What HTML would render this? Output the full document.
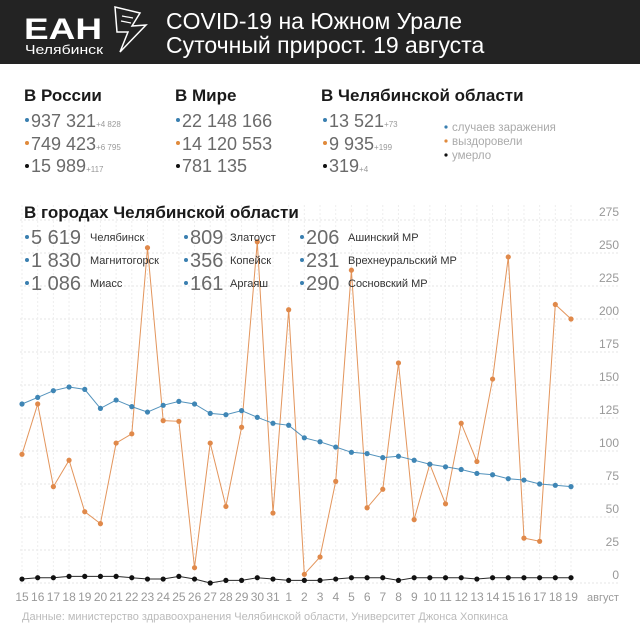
<!DOCTYPE html>
<html><head><meta charset="utf-8"><style>
body{margin:0;background:#fff}
svg{display:block}
text{font-family:"Liberation Sans","DejaVu Sans",sans-serif}
.b{font-weight:bold;fill:#1a1a1a}
.n{fill:#6a6a6a;font-size:18px}
.s{fill:#999;font-size:8px}
.c{fill:#333;font-size:11px}
.ax{fill:#999;font-size:12px}
</style></head><body>
<svg width="640" height="640" viewBox="0 0 640 640" xmlns="http://www.w3.org/2000/svg">
<rect x="0" y="0" width="640" height="64" fill="#232323"/>
<text x="24" y="39" fill="#fff" font-size="30" font-weight="bold" textLength="78" lengthAdjust="spacingAndGlyphs">ЕАН</text>
<text x="25" y="54" fill="#fff" font-size="13" textLength="78" lengthAdjust="spacingAndGlyphs">Челябинск</text>
<path d="M115 7 L140 13 L132 26 L146 25 L120 52 L128 32 L117 32 Z" fill="none" stroke="#fff" stroke-width="1.5"/>
<line x1="122" y1="16" x2="133" y2="18" stroke="#fff" stroke-width="1.2"/>
<line x1="121" y1="21" x2="131" y2="23" stroke="#fff" stroke-width="1.2"/>
<text x="166" y="29" fill="#fff" font-size="23">COVID-19 на Южном Урале</text>
<text x="166" y="53" fill="#fff" font-size="23">Суточный прирост. 19 августа</text>

<text x="24" y="101" class="b" font-size="17">В России</text>
<text x="175" y="101" class="b" font-size="17">В Мире</text>
<text x="321" y="101" class="b" font-size="17">В Челябинской области</text>

<g>
<circle cx="27" cy="120" r="2" fill="#3a7fb0"/><text x="31" y="127" class="n">937 321<tspan class="s">+4 828</tspan></text>
<circle cx="27" cy="143" r="2" fill="#e08a3c"/><text x="31" y="150" class="n">749 423<tspan class="s">+6 795</tspan></text>
<circle cx="27" cy="166" r="2" fill="#111"/><text x="31" y="172" class="n">15 989<tspan class="s">+117</tspan></text>
<circle cx="178" cy="120" r="2" fill="#3a7fb0"/><text x="182" y="127" class="n">22 148 166</text>
<circle cx="178" cy="143" r="2" fill="#e08a3c"/><text x="182" y="150" class="n">14 120 553</text>
<circle cx="178" cy="166" r="2" fill="#111"/><text x="182" y="172" class="n">781 135</text>
<circle cx="325" cy="120" r="2" fill="#3a7fb0"/><text x="329" y="127" class="n">13 521<tspan class="s">+73</tspan></text>
<circle cx="325" cy="143" r="2" fill="#e08a3c"/><text x="329" y="150" class="n">9 935<tspan class="s">+199</tspan></text>
<circle cx="325" cy="166" r="2" fill="#111"/><text x="329" y="172" class="n">319<tspan class="s">+4</tspan></text>
</g>
<circle cx="446" cy="127" r="1.6" fill="#3a7fb0"/><text x="452" y="131" fill="#aaa" font-size="11.5">случаев заражения</text>
<circle cx="446" cy="141" r="1.6" fill="#e08a3c"/><text x="452" y="145" fill="#aaa" font-size="11.5">выздоровели</text>
<circle cx="446" cy="155" r="1.6" fill="#111"/><text x="452" y="159" fill="#aaa" font-size="11.5">умерло</text>

<g id="grid"></g>
<g id="series"></g>

<text x="24" y="218" class="b" font-size="17">В городах Челябинской области</text>
<g>
<circle cx="27" cy="237" r="2" fill="#3a7fb0"/><text x="31" y="244" class="n" font-size="20" style="font-size:20px">5 619</text><text x="90" y="241" class="c">Челябинск</text>
<circle cx="27" cy="260" r="2" fill="#3a7fb0"/><text x="31" y="267" class="n" style="font-size:20px">1 830</text><text x="90" y="264" class="c">Магнитогорск</text>
<circle cx="27" cy="283" r="2" fill="#3a7fb0"/><text x="31" y="290" class="n" style="font-size:20px">1 086</text><text x="90" y="287" class="c">Миасс</text>
<circle cx="186" cy="237" r="2" fill="#3a7fb0"/><text x="190" y="244" class="n" style="font-size:20px">809</text><text x="230" y="241" class="c">Златоуст</text>
<circle cx="186" cy="260" r="2" fill="#3a7fb0"/><text x="190" y="267" class="n" style="font-size:20px">356</text><text x="230" y="264" class="c">Копейск</text>
<circle cx="186" cy="283" r="2" fill="#3a7fb0"/><text x="190" y="290" class="n" style="font-size:20px">161</text><text x="230" y="287" class="c">Аргаяш</text>
<circle cx="302" cy="237" r="2" fill="#3a7fb0"/><text x="306" y="244" class="n" style="font-size:20px">206</text><text x="348" y="241" class="c">Ашинский МР</text>
<circle cx="302" cy="260" r="2" fill="#3a7fb0"/><text x="306" y="267" class="n" style="font-size:20px">231</text><text x="348" y="264" class="c">Врехнеуральский МР</text>
<circle cx="302" cy="283" r="2" fill="#3a7fb0"/><text x="306" y="290" class="n" style="font-size:20px">290</text><text x="348" y="287" class="c">Сосновский МР</text>
</g>

<g class="ax" text-anchor="end">
<text x="619" y="216">275</text><text x="619" y="249">250</text><text x="619" y="282">225</text><text x="619" y="315">200</text>
<text x="619" y="348">175</text><text x="619" y="381">150</text><text x="619" y="414">125</text><text x="619" y="447">100</text>
<text x="619" y="480">75</text><text x="619" y="513">50</text><text x="619" y="546">25</text><text x="619" y="579">0</text>
</g>
<g class="ax" text-anchor="middle" font-size="12.5">
<text x="22" y="601">15</text><text x="37.7" y="601">16</text><text x="53.4" y="601">17</text><text x="69.1" y="601">18</text><text x="84.8" y="601">19</text><text x="100.5" y="601">20</text><text x="116.1" y="601">21</text><text x="131.8" y="601">22</text><text x="147.5" y="601">23</text><text x="163.2" y="601">24</text><text x="178.9" y="601">25</text><text x="194.6" y="601">26</text><text x="210.3" y="601">27</text><text x="226" y="601">28</text><text x="241.7" y="601">29</text><text x="257.4" y="601">30</text><text x="273" y="601">31</text><text x="288.7" y="601">1</text><text x="304.4" y="601">2</text><text x="320.1" y="601">3</text><text x="335.8" y="601">4</text><text x="351.5" y="601">5</text><text x="367.2" y="601">6</text><text x="382.9" y="601">7</text><text x="398.6" y="601">8</text><text x="414.3" y="601">9</text><text x="429.9" y="601">10</text><text x="445.6" y="601">11</text><text x="461.3" y="601">12</text><text x="477" y="601">13</text><text x="492.7" y="601">14</text><text x="508.4" y="601">15</text><text x="524.1" y="601">16</text><text x="539.8" y="601">17</text><text x="555.5" y="601">18</text><text x="571.2" y="601">19</text>
<text x="603" y="601" font-size="11">август</text>
</g>
<text x="22" y="620" fill="#bbb" font-size="11">Данные: министерство здравоохранения Челябинской области, Университет Джонса Хопкинса</text>
</svg>
<script>
var NS="http://www.w3.org/2000/svg";
function X(i){return 22+i*15.686;}
function Y(v){return 583-1.32*v;}
var grid=document.getElementById('grid'),ser=document.getElementById('series');
function el(p,n,a){var e=document.createElementNS(NS,n);for(var k in a)e.setAttribute(k,a[k]);p.appendChild(e);return e;}
for(var v=0;v<=275;v+=25)el(grid,'line',{x1:20,x2:620,y1:Y(v),y2:Y(v),stroke:'#e6e6e6','stroke-width':1,'stroke-dasharray':'2,2'});
for(var i=0;i<36;i++)el(grid,'line',{x1:X(i),x2:X(i),y1:205,y2:583,stroke:'#eeeeee','stroke-width':1,'stroke-dasharray':'2,2'});
var blue=[135.6,140.6,145.7,148.5,146.7,132.3,138.6,133.6,129.5,134.6,137.6,135.6,128.5,127.5,130.6,125.5,121,119.5,110,107,103,99,98,95,96,93,90,88,86,83,82,79,78,75,74,73];
var orange=[97.5,135.6,73,93,54,45,106,113,254,123,122.5,11.6,106,58,118,258.5,53,207,6.6,19.7,77,237,57,71,166.7,48,90,60,121,92,154.5,247,34,31.6,211,200];
var black=[3,4,4,5,5,5,5,4,3,3,5,3,0,2,2,4,3,2,2,2,3,4,4,4,2,4,4,4,4,3,4,4,4,4,4,4];
function draw(d,c){var p='';d.forEach(function(v,i){p+=(i?'L':'M')+X(i).toFixed(1)+' '+Y(v).toFixed(1);});
el(ser,'path',{d:p,fill:'none',stroke:c,'stroke-width':1,opacity:0.9});
d.forEach(function(v,i){el(ser,'circle',{cx:X(i),cy:Y(v),r:2.6,fill:c});});}
draw(orange,'#e0894a');draw(blue,'#3f86b5');draw(black,'#111');
</script>
</body></html>
